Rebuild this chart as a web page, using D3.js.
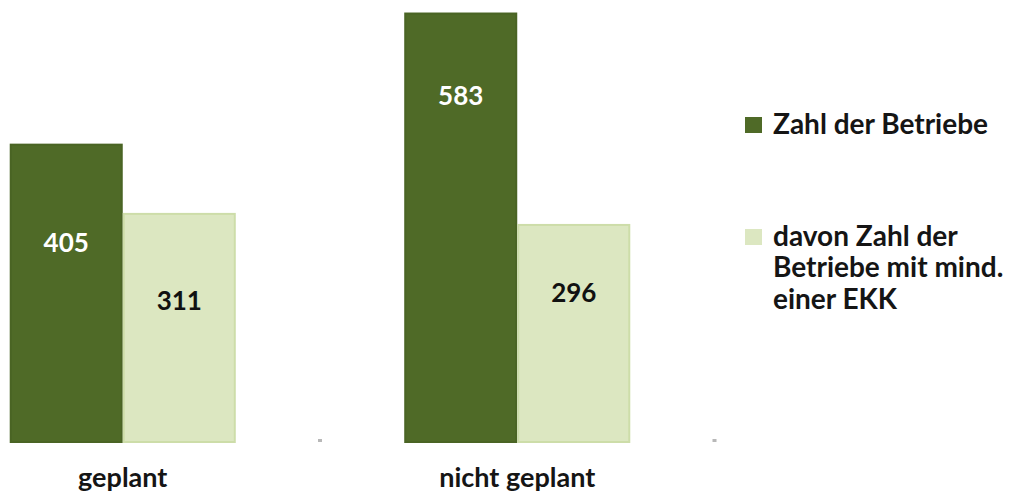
<!DOCTYPE html>
<html>
<head>
<meta charset="utf-8">
<script src="https://cdn.jsdelivr.net/npm/d3@7"></script>
<style>
  html, body { margin: 0; padding: 0; background: #ffffff; }
  svg { display: block; }
  text { font-family: Lato, "Open Sans", sans-serif; font-weight: 700; }
</style>
</head>
<body>
<svg id="chart" width="1013" height="495"></svg>
<script>
// Chart data
const categories = ["geplant", "nicht geplant"];
const seriesNames = ["Zahl der Betriebe", "davon Zahl der Betriebe mit mind. einer EKK"];
const seriesKeys = ["total", "ekk"];
const totalValues = [405, 583];
const ekkValues = [311, 296];
const legendLines = [["Zahl der Betriebe"], ["davon Zahl der", "Betriebe mit mind.", "einer EKK"]];

// Styling / layout
const colors = { total: "#4f6a27", ekk: "#dce7c1" };
const strokes = { total: "#4a6424", ekk: "#cddda9" };
const labelColors = { total: "#ffffff", ekk: "#111111" };
// vertical distance from bar top to the value label baseline
const labelDrop = { total: [108, 92], ekk: [97, 78] };

const svg = d3.select("#chart");
const baseY = 442;

const x = d3.scaleBand()
  .domain(categories)
  .range([-74.5, 714.5])
  .paddingInner(0.427)
  .paddingOuter(0.2135);

const xInner = d3.scaleBand()
  .domain(seriesKeys)
  .range([0, x.bandwidth()])
  .padding(0);

const y = d3.scaleLinear().domain([0, 600]).range([baseY, 0]);

const rows = categories.map((c, i) => ({
  category: c,
  idx: i,
  total: totalValues[i],
  ekk: ekkValues[i]
}));

const groups = svg.append("g").selectAll("g")
  .data(rows)
  .join("g")
  .attr("transform", d => `translate(${x(d.category)},0)`);

// bars
groups.selectAll("rect")
  .data(d => seriesKeys.map(k => ({ key: k, value: d[k], idx: d.idx })))
  .join("rect")
  .attr("x", d => xInner(d.key) + 1)
  .attr("y", d => y(d.value) + 1)
  .attr("width", xInner.bandwidth() - 2)
  .attr("height", d => baseY - y(d.value) - 1)
  .attr("fill", d => colors[d.key])
  .attr("stroke", d => strokes[d.key])
  .attr("stroke-width", 2);

// value labels
groups.selectAll("text.val")
  .data(d => seriesKeys.map(k => ({ key: k, value: d[k], idx: d.idx })))
  .join("text")
  .attr("class", "val")
  .attr("x", d => xInner(d.key) + xInner.bandwidth() / 2)
  .attr("y", d => y(d.value) + labelDrop[d.key][d.idx])
  .attr("text-anchor", "middle")
  .attr("font-size", 26)
  .attr("fill", d => labelColors[d.key])
  .text(d => d.value);

// small category separator ticks on the baseline
const step = x.step();
svg.append("g").selectAll("rect")
  .data(categories)
  .join("rect")
  .attr("x", d => x(d) + x.bandwidth() + (step - x.bandwidth()) / 2 - 2)
  .attr("y", baseY - 3)
  .attr("width", 4)
  .attr("height", 3)
  .attr("fill", "#b8b8b8");

// category labels
svg.append("g").selectAll("text")
  .data(categories)
  .join("text")
  .attr("x", d => x(d) + x.bandwidth() / 2)
  .attr("y", 487)
  .attr("text-anchor", "middle")
  .attr("font-size", 27)
  .attr("fill", "#151515")
  .text(d => d);

// legend
const legendTop = [117, 229];
const legend = svg.append("g").selectAll("g")
  .data(seriesKeys)
  .join("g")
  .attr("transform", (d, i) => `translate(745,${legendTop[i]})`);

legend.append("rect")
  .attr("width", 17)
  .attr("height", 16)
  .attr("fill", d => colors[d]);

legend.append("text")
  .attr("font-size", 28)
  .attr("fill", "#151515")
  .selectAll("tspan")
  .data((d, i) => legendLines[i])
  .join("tspan")
  .attr("x", 28)
  .attr("y", (d, j) => (j === 0 ? 17 : 16) + j * 32)
  .text(d => d);
</script>
</body>
</html>
